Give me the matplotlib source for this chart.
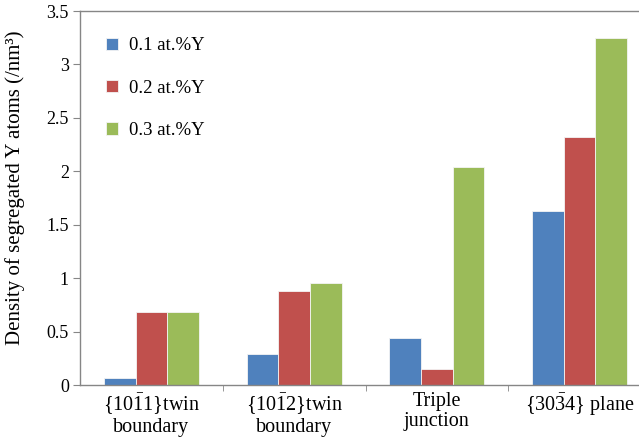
import numpy as np
import matplotlib.pyplot as plt

plt.rcParams['font.family'] = ['Liberation Serif', 'DejaVu Serif']
plt.rcParams['mathtext.fontset'] = 'custom'
plt.rcParams['mathtext.rm'] = 'Liberation Serif'
plt.rcParams['mathtext.it'] = 'Liberation Serif:italic'

categories = [r"$\{10\bar{1}1\}$twin" + "\nboundary",
              r"$\{10\bar{1}2\}$twin" + "\nboundary",
              "Triple\njunction",
              r"$\{30\bar{3}4\}$ plane"]
series = ["0.1 at.%Y", "0.2 at.%Y", "0.3 at.%Y"]
y01 = [0.066, 0.29, 0.44, 1.625]
y02 = [0.685, 0.88, 0.147, 2.325]
y03 = [0.685, 0.954, 2.04, 3.25]
colors = ["#4F81BD", "#C0504D", "#9BBB59"]

fig = plt.figure(figsize=(6.39, 4.42), dpi=100)
ax = fig.add_axes([80 / 639, 57 / 442, 571 / 639, 374 / 442])

x = np.arange(len(categories))
w = 1 / 4.5
for i, (vals, lab, c) in enumerate(zip([y01, y02, y03], series, colors)):
    ax.bar(x + (i - 1) * w, vals, width=w, color=c, label=lab,
           edgecolor="#f4f4f4", linewidth=0.6)

ax.set_xlim(-0.5, 3.5)
ax.set_ylim(0, 3.5)
ax.set_yticks(np.arange(0, 3.51, 0.5))
ax.set_yticklabels(["0", "0.5", "1", "1.5", "2", "2.5", "3", "3.5"])
ax.set_xticks(x)
ax.set_xticklabels(categories, fontsize=14.5, linespacing=1.05)
ax.set_xticks([0.5, 1.5, 2.5], minor=True)
ax.tick_params(axis='x', which='major', length=0, pad=5)
ax.tick_params(axis='x', which='minor', length=4, direction='out', color='#868686')
ax.tick_params(axis='y', length=5, direction='out', color='#868686', labelsize=13, pad=3)

for s in ax.spines.values():
    s.set_color('#868686')
    s.set_linewidth(1.0)
ax.spines['right'].set_visible(False)

ax.set_ylabel("Density of segregated Y atoms (/nm³)", fontsize=15)
ax.yaxis.set_label_coords(-0.097, 0.527)

ax.legend(loc='upper left', bbox_to_anchor=(98 / 639, 1 - 30 / 442),
          bbox_transform=fig.transFigure, frameon=False, fontsize=13.5,
          handlelength=0.65, handleheight=0.65, handletextpad=0.6,
          labelspacing=1.35, borderaxespad=0)

fig.savefig("out.png", dpi=100)
